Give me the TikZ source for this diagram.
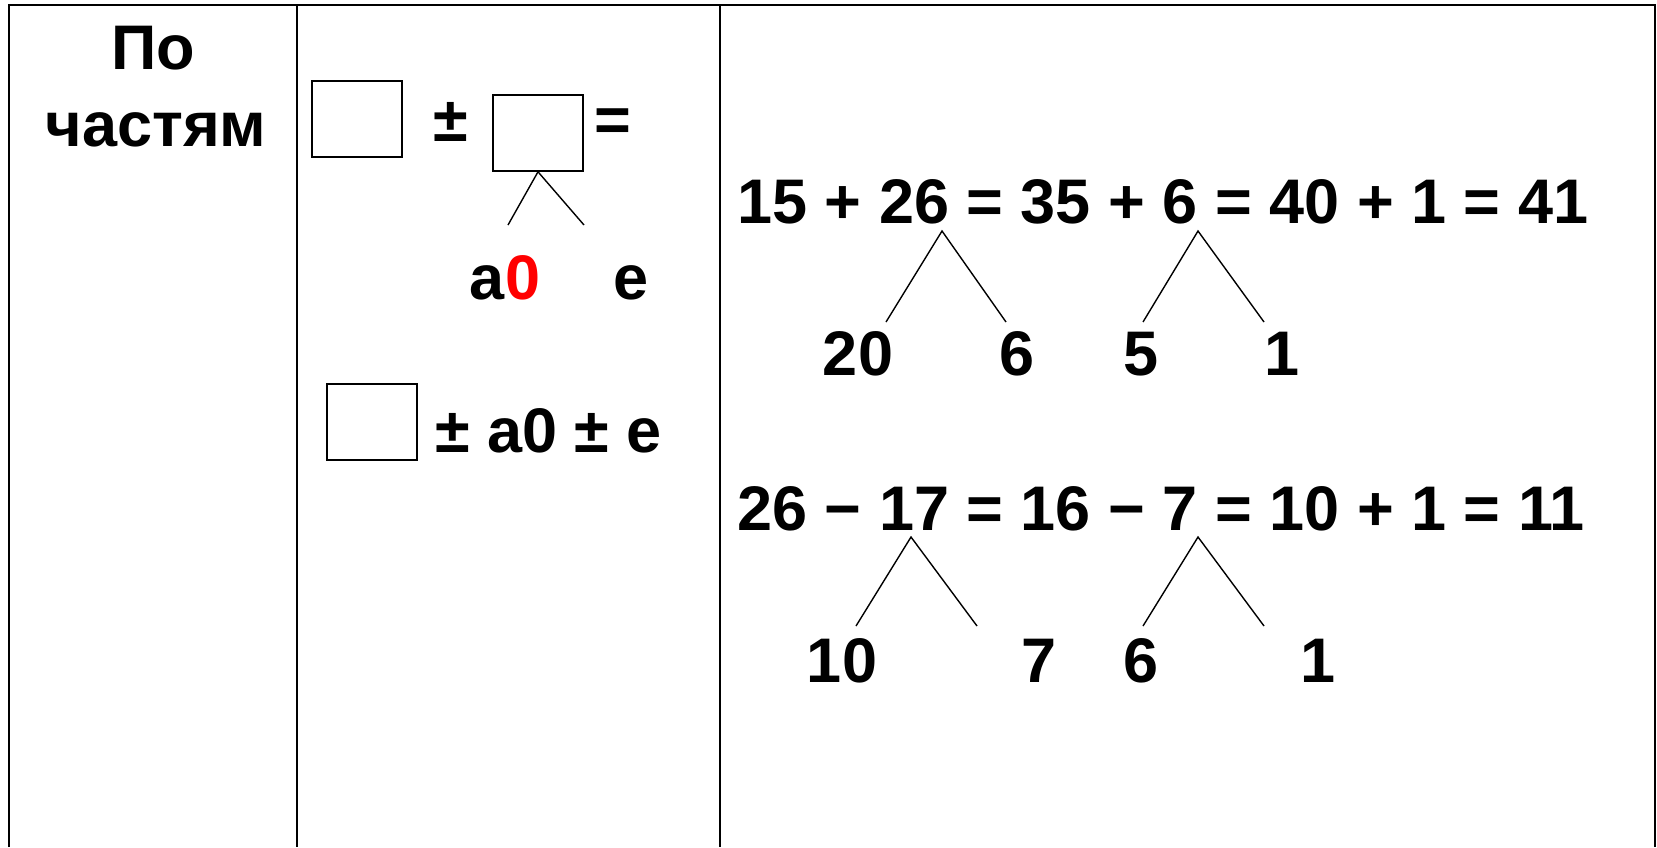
\documentclass[tikz,border=0pt]{standalone}
\usepackage{fontspec}
\setmainfont{Liberation Sans}
\begin{document}
\begin{tikzpicture}[x=1pt,y=-1pt,
  txt/.style={inner sep=0pt,font=\bfseries\fontsize{63}{72}\selectfont},
  frame/.style={line width=2.5pt},
  blank/.style={draw,line width=1.6pt,minimum width=90pt,minimum height=76pt,inner sep=0pt},
  branch/.style={line width=1.4pt}]
\useasboundingbox (0,0) rectangle (1657,847);

% table rules (open at the bottom)
\coordinate (tl) at (9,5);
\coordinate (tr) at (1655,5);
\draw[frame] (9,847) -- (tl) -- (tr) -- (1655,847);
\draw[frame] (297,5) -- (297,847);
\draw[frame] (720,5) -- (720,847);

% first column
\node[txt,anchor=base] (po) at (153,69) {По};
\node[txt,anchor=base] (parts) at (156,146) {частям};

% second column: general scheme
\node[blank] (b1) at (357,119) {};
\node[txt,anchor=base] (pm1) at (451,141) {±};
\node[blank] (b2) at (538,133) {};
\node[txt,anchor=base] (eq0) at (613,141) {=};
\coordinate (b2l) at (508,225);
\coordinate (b2r) at (584,225);
\draw[branch] (b2l) -- (b2.south) -- (b2r);
\node[txt,anchor=base] (a0) at (505,299) {a\textcolor{red}{0}};
\node[txt,anchor=base] (e0) at (631,299) {e};

\node[blank] (b3) at (372,422) {};
\node[txt,anchor=base west] (rest) at (435,452) {± a0 ± e};

% third column: first example
\node[txt,anchor=base west] (ex1) at (737,223) {15 + 26 = 35 + 6 = 40 + 1 = 41};
\coordinate (t1) at (942,231);
\coordinate (t1l) at (886,322);
\coordinate (t1r) at (1006,322);
\draw[branch] (t1l) -- (t1) -- (t1r);
\coordinate (t2) at (1198,231);
\coordinate (t2l) at (1143,322);
\coordinate (t2r) at (1264,322);
\draw[branch] (t2l) -- (t2) -- (t2r);
\node[txt,anchor=base] (n20) at (858,375) {20};
\node[txt,anchor=base] (n6) at (1017,375) {6};
\node[txt,anchor=base] (n5) at (1141,375) {5};
\node[txt,anchor=base] (n1) at (1282,375) {1};

% third column: second example
\node[txt,anchor=base west] (ex2) at (737,530) {26 − 17 = 16 − 7 = 10 + 1 = 11};
\coordinate (t3) at (911,537);
\coordinate (t3l) at (856,626);
\coordinate (t3r) at (977,626);
\draw[branch] (t3l) -- (t3) -- (t3r);
\coordinate (t4) at (1198,537);
\coordinate (t4l) at (1143,626);
\coordinate (t4r) at (1264,626);
\draw[branch] (t4l) -- (t4) -- (t4r);
\node[txt,anchor=base] (m10) at (842,682) {10};
\node[txt,anchor=base] (m7) at (1039,682) {7};
\node[txt,anchor=base] (m6) at (1141,682) {6};
\node[txt,anchor=base] (m1) at (1318,682) {1};
\end{tikzpicture}
\end{document}
